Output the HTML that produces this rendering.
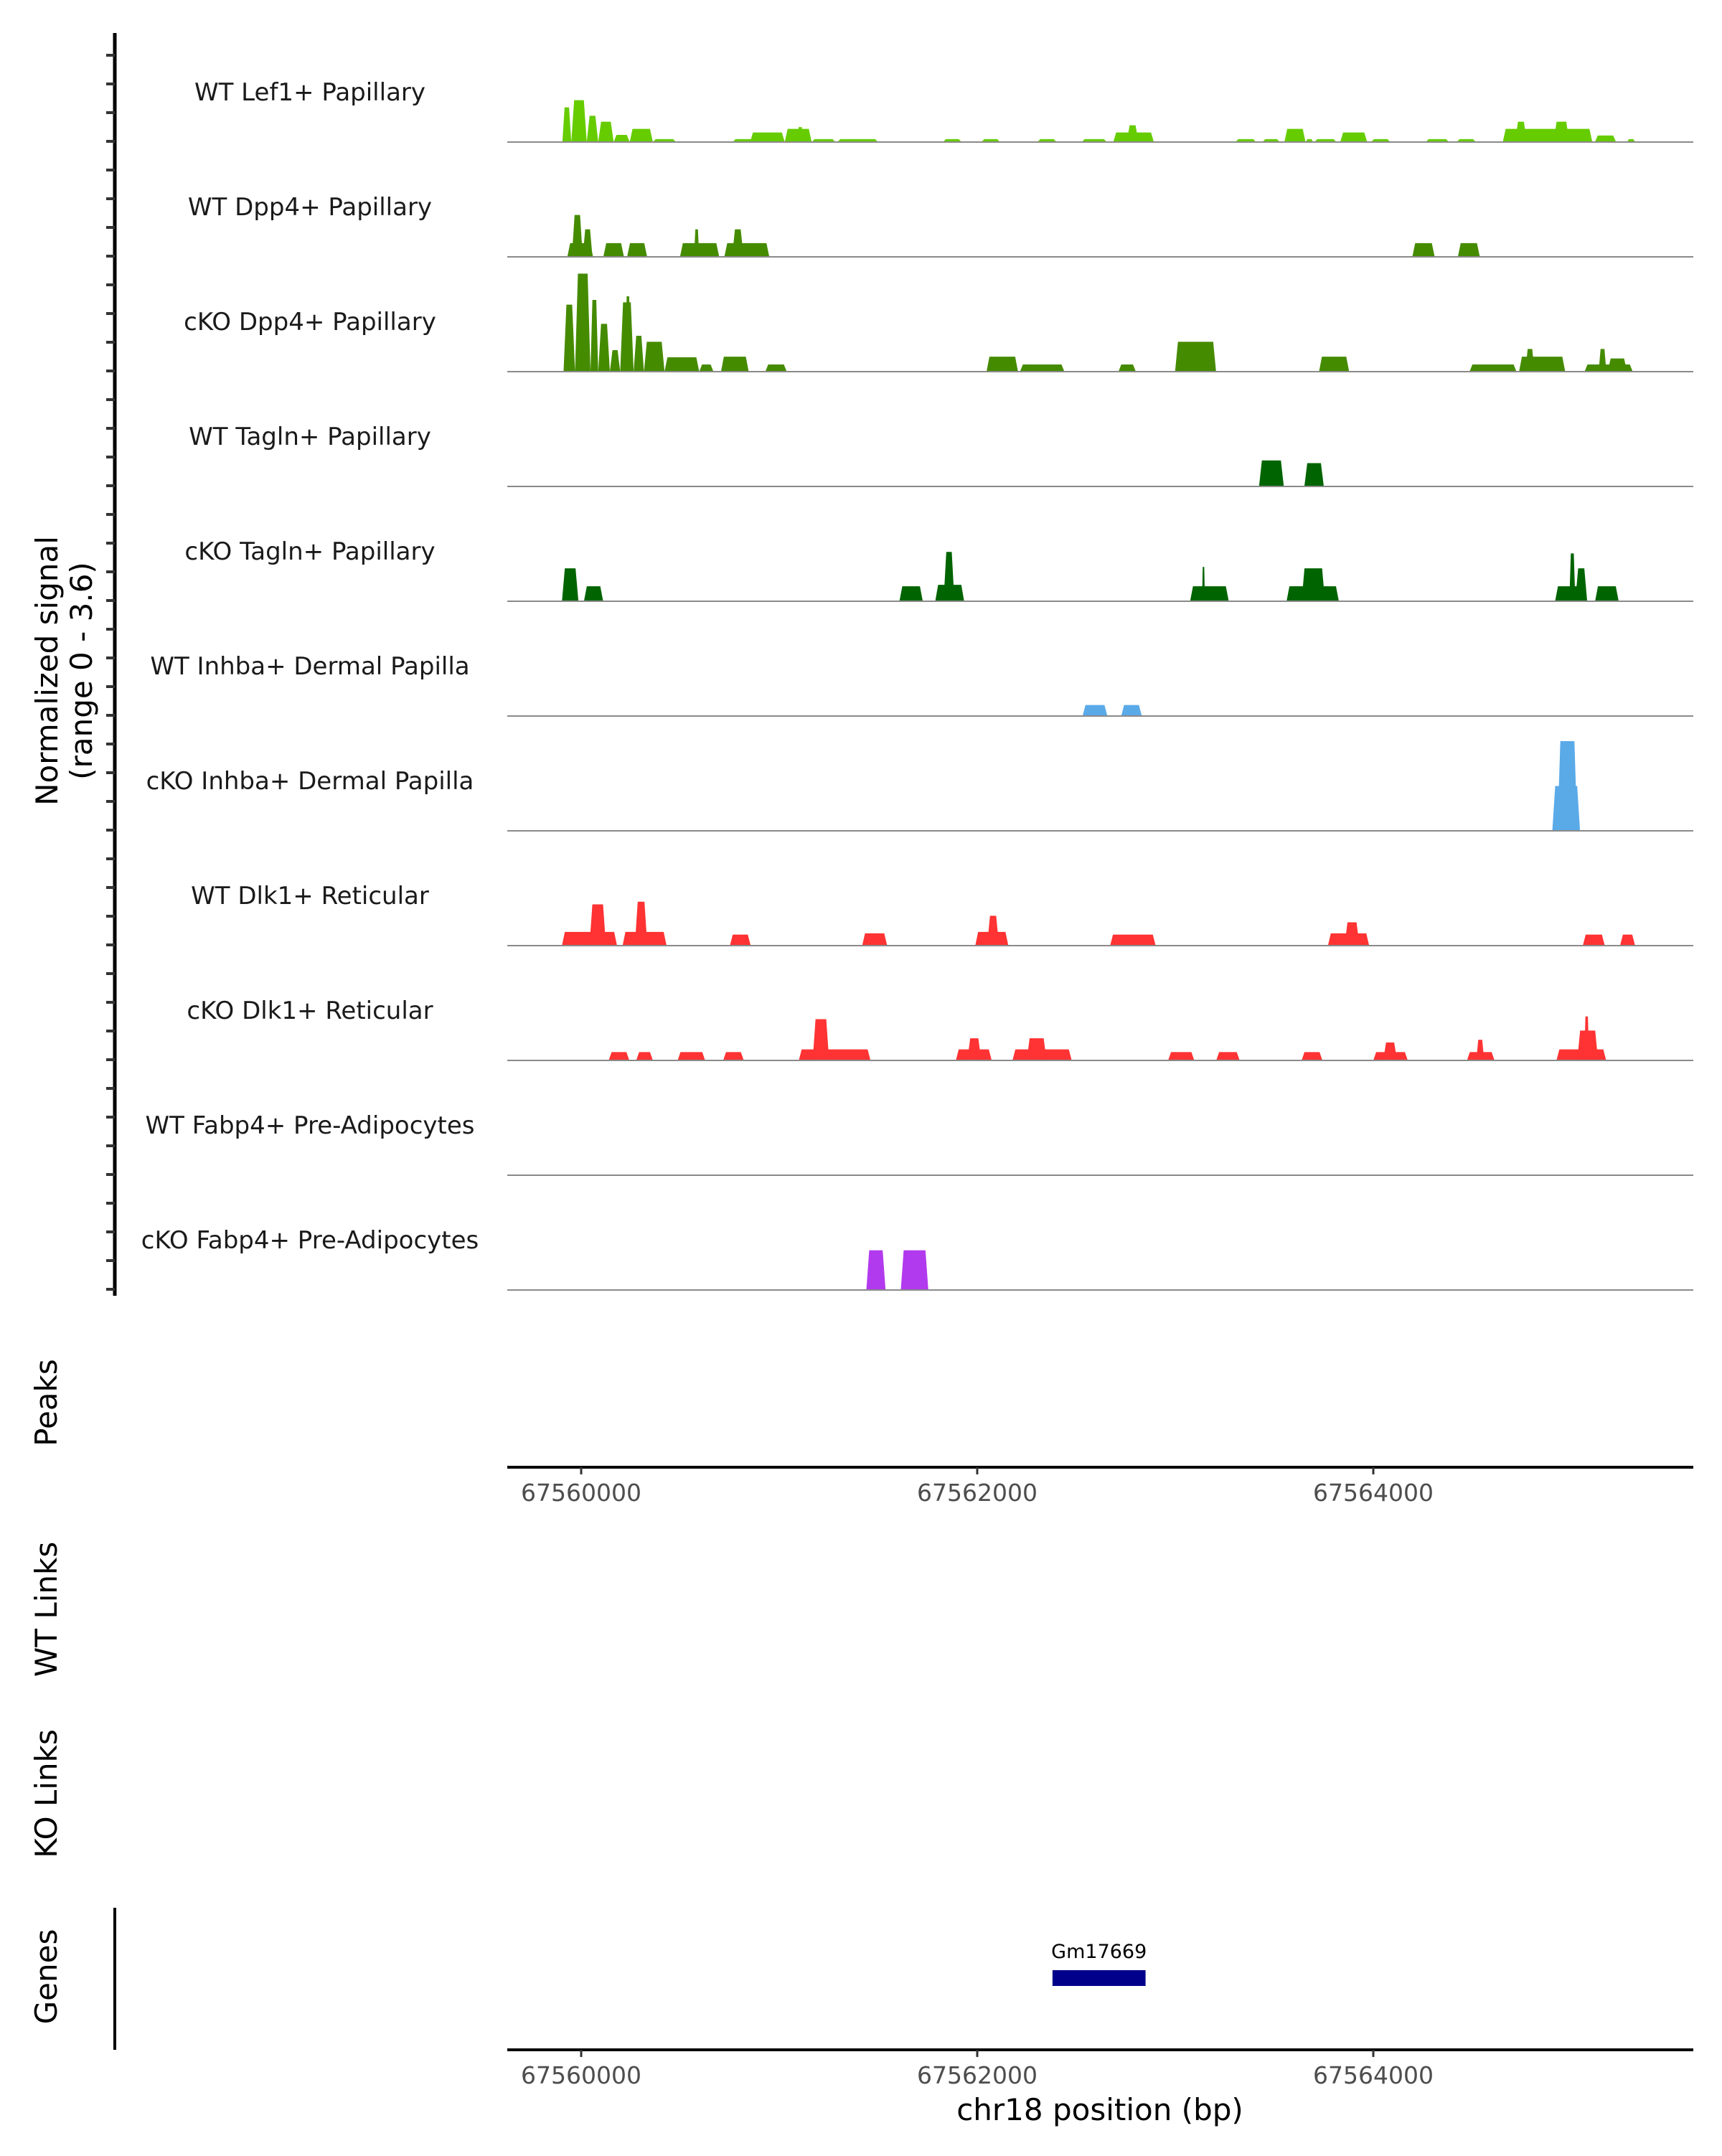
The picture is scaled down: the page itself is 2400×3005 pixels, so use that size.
<!DOCTYPE html>
<html><head><meta charset="utf-8"><style>
body{margin:0;background:#fff}
svg text{font-family:"DejaVu Sans","Liberation Sans",sans-serif}
</style></head><body>
<svg id="chart" width="2400" height="3000" viewBox="0 0 2400 3000" xmlns="http://www.w3.org/2000/svg">
<g id="tracks"></g>
<g id="axes"></g>
</svg>
<script>
const trackNames = ["WT Lef1+ Papillary","WT Dpp4+ Papillary","cKO Dpp4+ Papillary","WT Tagln+ Papillary","cKO Tagln+ Papillary","WT Inhba+ Dermal Papilla","cKO Inhba+ Dermal Papilla","WT Dlk1+ Reticular","cKO Dlk1+ Reticular","WT Fabp4+ Pre-Adipocytes","cKO Fabp4+ Pre-Adipocytes"];
const trackColors = ["#66cc00","#458b00","#458b00","#006400","#006400","#5aaae8","#5aaae8","#ff3333","#ff3333","#b23aee","#b23aee"];
const xTicks = [67560000,67562000,67564000];
// blocks: [start offset bp from 67560000, end offset bp, signal]
const lef1WT = [[-95,-50,1.16],[-50,28,1.4],[28,86,0.88],[86,164,0.68],[164,245,0.24],[245,362,0.44],[362,479,0.1],[765,872,0.1],[853,1028,0.32],[1028,1164,0.44],[1090,1122,0.5],[1164,1284,0.1],[1294,1499,0.1],[1827,1921,0.1],[2021,2115,0.1],[2304,2401,0.1],[2528,2654,0.1],[2687,2892,0.32],[2755,2814,0.56],[3304,3408,0.1],[3440,3528,0.1],[3551,3658,0.44],[3658,3697,0.1],[3703,3814,0.1],[3833,3969,0.32],[3989,4086,0.1],[4265,4382,0.1],[4421,4518,0.1],[4654,5106,0.44],[4716,4775,0.68],[4911,4989,0.68],[5119,5226,0.22],[5281,5323,0.1]];
const dpp4WT = [[-70,60,0.46],[-47,8,1.4],[8,57,0.92],[112,216,0.46],[232,333,0.46],[499,697,0.46],[570,596,0.92],[723,950,0.46],[762,820,0.92],[4197,4310,0.46],[4427,4538,0.46]];
const dpp4KO = [[-89,-31,2.24],[-31,47,3.28],[47,86,2.4],[86,145,1.6],[145,197,0.72],[197,265,2.32],[223,249,2.52],[265,317,1.2],[317,421,1.0],[421,596,0.48],[596,668,0.24],[706,846,0.5],[930,1038,0.24],[2047,2206,0.5],[2216,2440,0.24],[2713,2801,0.24],[2999,3206,1.0],[3726,3878,0.5],[4486,4723,0.24],[4736,4969,0.5],[4768,4814,0.76],[5067,5310,0.24],[5138,5177,0.76],[5184,5281,0.44]];
const taglnWT = [[3423,3548,0.87],[3652,3750,0.78]];
const taglnKO = [[-97,-14,1.1],[14,111,0.5],[1607,1725,0.5],[1788,1934,0.55],[1830,1885,1.65],[3075,3270,0.5],[3135,3150,1.15],[3562,3826,0.5],[3638,3756,1.1],[4918,5051,0.5],[4990,5020,1.6],[5020,5080,1.1],[5120,5239,0.5]];
const inhbaWT = [[2532,2657,0.37],[2727,2831,0.37]];
const inhbaKO = [[4904,5044,1.5],[4930,5030,3.0]];
const dlk1WT = [[-97,181,0.46],[42,125,1.38],[209,431,0.46],[271,334,1.47],[751,856,0.37],[1419,1545,0.41],[1990,2157,0.46],[2050,2110,1.0],[2671,2901,0.37],[3771,3979,0.41],[3855,3930,0.78],[5058,5169,0.37],[5246,5322,0.37]];
const dlk1KO = [[139,243,0.28],[278,362,0.28],[487,626,0.28],[717,821,0.28],[1099,1461,0.37],[1169,1252,1.38],[1892,2073,0.37],[1950,2020,0.74],[2178,2477,0.37],[2250,2350,0.74],[2964,3096,0.28],[3207,3325,0.28],[3638,3743,0.28],[4000,4174,0.28],[4050,4120,0.6],[4473,4612,0.28],[4520,4560,0.69],[4925,5176,0.37],[5030,5135,1.0],[5065,5090,1.47]];
const fabp4WT = [];
const fabp4KO = [[1440,1537,1.33],[1614,1753,1.33]];
const allTracks = [lef1WT,dpp4WT,dpp4KO,taglnWT,taglnKO,inhbaWT,inhbaKO,dlk1WT,dlk1KO,fabp4WT,fabp4KO];

const NS="http://www.w3.org/2000/svg";
const X0=707,X1=2360;
function xs(bp){return 810+(bp-67560000)/2000*552;}
function ys(v){return v/3.6*150;}
function baseY(i){return 198+i*160;}
function mk(tag,attrs,parent){const e=document.createElementNS(NS,tag);for(const k in attrs)e.setAttribute(k,attrs[k]);parent.appendChild(e);return e;}
const gT=document.getElementById('tracks'),gA=document.getElementById('axes');

allTracks.forEach((blocks,i)=>{
  const by=baseY(i);
  const g=mk('g',{},gT);
  
  
  blocks.forEach((b,j)=>{
    const xa=xs(67560000+b[0]),xb=xs(67560000+b[1]),h=ys(b[2]);
    const r=Math.min(4,(xb-xa)/4);
    const p=mk('polygon',{points:`${xa},${by} ${xa+r},${by-h} ${xb-r},${by-h} ${xb},${by}`,fill:trackColors[i]},g);
    
    
  });
  const ln=mk('line',{x1:X0,x2:X1,y1:by,y2:by,stroke:'#8a8a8a','stroke-width':2},g);
  
  
  const t=mk('text',{x:432,y:by-58,'text-anchor':'middle','font-size':34,fill:'#1a1a1a'},g);
  t.textContent=trackNames[i];
  
  
});

const ax=mk('line',{x1:160,x2:160,y1:46,y2:1806,stroke:'#000','stroke-width':5},gA);


for(let y=77;y<=1800;y+=40){
  const tk=mk('line',{x1:148,x2:160,y1:y,y2:y,stroke:'#333','stroke-width':4},gA);
  
  
}
function rotText(x,y,s,name,size){
  const t=mk('text',{x:0,y:0,transform:`translate(${x},${y}) rotate(-90)`,'text-anchor':'middle','font-size':size||42,fill:'#000'},gA);
  t.textContent=s;
  
  
}
rotText(80,935,"Normalized signal","y-axis-title");
rotText(128,935,"(range 0 - 3.6)","y-axis-subtitle");
rotText(79,1955,"Peaks","peaks-label");
rotText(79,2243,"WT Links","wt-links-label");
rotText(79,2500,"KO Links","ko-links-label");
rotText(79,2755,"Genes","genes-label");

function xAxis(y,name){
  const l=mk('line',{x1:X0,x2:X1,y1:y,y2:y,stroke:'#000','stroke-width':4},gA);
  
  
  xTicks.forEach(v=>{
    const tk=mk('line',{x1:xs(v),x2:xs(v),y1:y,y2:y+10,stroke:'#333','stroke-width':3},gA);
    
    
    const t=mk('text',{x:xs(v),y:y+47,'text-anchor':'middle','font-size':33,fill:'#4d4d4d'},gA);
    t.textContent=v;
    
    
  });
}
xAxis(2045,'peaks-x-axis');
xAxis(2857,'genes-x-axis');
const gl=mk('line',{x1:160,x2:160,y1:2659,y2:2857,stroke:'#000','stroke-width':4},gA);


const xt=mk('text',{x:1533,y:2955,'text-anchor':'middle','font-size':42,fill:'#000'},gA);
xt.textContent="chr18 position (bp)";



const geneStart=67562380, geneEnd=67562850;
const gr=mk('rect',{x:xs(geneStart),y:2746,width:xs(geneEnd)-xs(geneStart),height:22,fill:'#00008b'},gA);


const gt=mk('text',{x:(xs(geneStart)+xs(geneEnd))/2,y:2749-20,'text-anchor':'middle','font-size':27,fill:'#000'},gA);
gt.textContent="Gm17669";


</script>
</body></html>
